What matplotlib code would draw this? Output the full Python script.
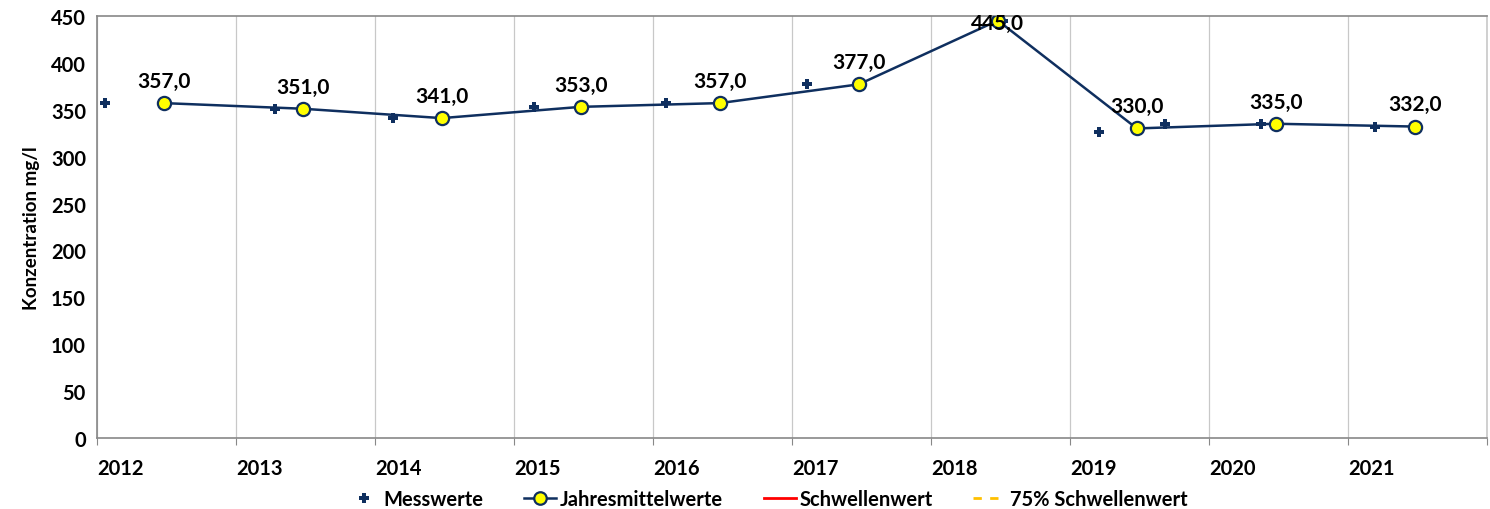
import matplotlib
matplotlib.use("Agg")
import matplotlib.pyplot as plt
from matplotlib.lines import Line2D

plt.rcParams['font.family'] = ['Lato', 'DejaVu Sans']
plt.rcParams['font.weight'] = 'bold'

# Einzelmesswerte (Datum als Dezimaljahr)
mess_x = [2012.06, 2013.28, 2014.13, 2015.14, 2016.09, 2017.11, 2018.52, 2019.21, 2019.68, 2020.37, 2021.19]
mess_y = [357, 351, 341, 353, 357, 377, 445, 326, 335, 335, 332]

# Jahresmittelwerte
mittel_x = [2012.48, 2013.48, 2014.48, 2015.48, 2016.48, 2017.48, 2018.48, 2019.48, 2020.48, 2021.48]
mittel_y = [357.0, 351.0, 341.0, 353.0, 357.0, 377.0, 445.0, 330.0, 335.0, 332.0]

jahre = list(range(2012, 2023))
navy = '#0f2f5f'

fig = plt.figure(figsize=(14.9, 5.1), dpi=100)
ax = fig.add_axes([0.0651, 0.139, 0.933, 0.828])

ax.plot(mittel_x, mittel_y, color=navy, lw=1.8, marker='o', ms=9.5,
        mfc='#ffff00', mec=navy, mew=1.6, zorder=3)
ax.plot(mess_x, mess_y, ls='none', marker='P', ms=7.5, color=navy, mew=0, zorder=2)

for x, y in zip(mittel_x, mittel_y):
    # Excel schiebt das Label am oberen Rand ins Diagramm
    dy = 16 if y < 430 else -2
    ax.annotate(f"{y:.1f}".replace('.', ','), (x, y), xytext=(0, dy),
                textcoords='offset points', ha='center', va='center',
                fontsize=15, fontweight='bold', zorder=5)

ax.set_xlim(2012, 2022)
ax.set_ylim(0, 450)
ax.set_yticks(range(0, 451, 50))
ax.set_xticks(jahre)
ax.set_xticklabels([str(j) for j in jahre[:-1]] + [''], ha='left', fontsize=14.5)
for lbl in ax.get_yticklabels():
    lbl.set_fontsize(14.5)
ax.tick_params(axis='y', length=0, pad=8)
ax.tick_params(axis='x', length=5, color='#888888', pad=9)
ax.grid(axis='x', color='#c8c8c8', lw=0.9)
for s in ax.spines.values():
    s.set_color('#888888')
    s.set_linewidth(1.2)
ax.spines['right'].set_color('#c8c8c8')
ax.set_ylabel('Konzentration mg/l', fontsize=13.5, fontweight='bold', labelpad=8)

handles = [
    Line2D([], [], ls='none', marker='P', ms=7, color=navy, mew=0),
    Line2D([], [], color=navy, lw=1.8, marker='o', ms=9, mfc='#ffff00', mec=navy, mew=1.6),
    Line2D([], [], color='#ff0000', lw=2),
    Line2D([], [], color='#ffc000', lw=2, ls=(0, (3, 3))),
]
labels = ['Messwerte', 'Jahresmittelwerte', 'Schwellenwert', '75% Schwellenwert']
fig.legend(handles, labels, loc='lower center', bbox_to_anchor=(0.515, -0.035), ncol=4,
           frameon=False, fontsize=14.5, handlelength=1.6, handletextpad=0.2,
           columnspacing=2.0)

fig.savefig('out.png', dpi=100)
